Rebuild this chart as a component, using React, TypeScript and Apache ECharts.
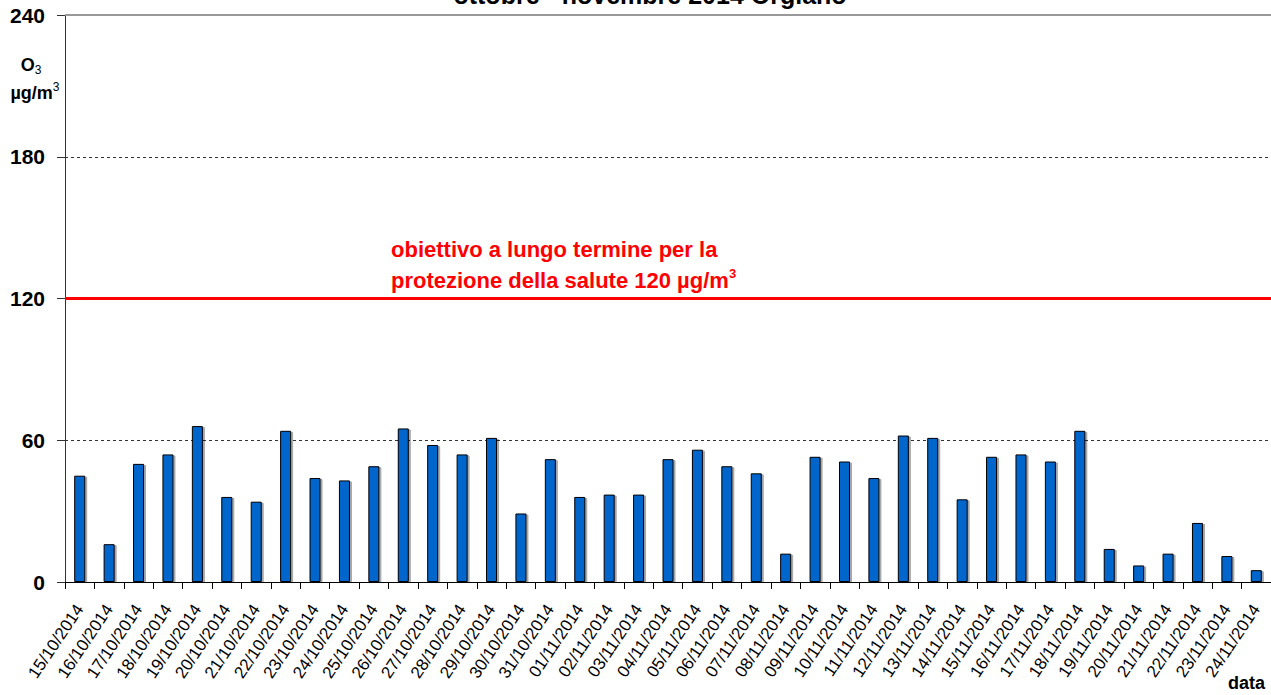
import React, { useEffect, useRef } from "react";
import * as echarts from "echarts";

const categories = [
  "15/10/2014", "16/10/2014", "17/10/2014", "18/10/2014", "19/10/2014", "20/10/2014",
  "21/10/2014", "22/10/2014", "23/10/2014", "24/10/2014", "25/10/2014", "26/10/2014",
  "27/10/2014", "28/10/2014", "29/10/2014", "30/10/2014", "31/10/2014", "01/11/2014",
  "02/11/2014", "03/11/2014", "04/11/2014", "05/11/2014", "06/11/2014", "07/11/2014",
  "08/11/2014", "09/11/2014", "10/11/2014", "11/11/2014", "12/11/2014", "13/11/2014",
  "14/11/2014", "15/11/2014", "16/11/2014", "17/11/2014", "18/11/2014", "19/11/2014",
  "20/11/2014", "21/11/2014", "22/11/2014", "23/11/2014", "24/11/2014",
];

const o3Values = [
  45, 16, 50, 54, 66, 36, 34, 64, 44, 43, 49, 65,
  58, 54, 61, 29, 52, 36, 37, 37, 52, 56, 49, 46,
  12, 53, 51, 44, 62, 61, 35, 53, 54, 51, 64, 14,
  7, 12, 25, 11, 5,
];

const yTicks = [0, 60, 120, 180, 240];
const limitValue = 120;

const FONT = "'Liberation Sans', Arial, sans-serif";

export default function App() {
  const ref = useRef<HTMLDivElement>(null);

  useEffect(() => {
    if (!ref.current) return;
    const chart = echarts.init(ref.current, null, { renderer: "svg" });
    chart.setOption({
      animation: false,
      backgroundColor: "#ffffff",
      grid: { left: 65, top: 15, width: 1213, height: 567, containLabel: false },
      xAxis: {
        type: "category",
        data: categories,
        boundaryGap: true,
        axisLine: { lineStyle: { color: "#000", width: 1 } },
        axisTick: { show: true, alignWithLabel: false, length: 7, lineStyle: { color: "#000" } },
        axisLabel: {
          interval: 0,
          rotate: 56,
          margin: 24,
          fontFamily: FONT,
          fontSize: 17,
          color: "#000",
        },
      },
      yAxis: {
        type: "value",
        min: yTicks[0],
        max: yTicks[yTicks.length - 1],
        interval: 60,
        axisLine: { show: true, lineStyle: { color: "#333", width: 1 } },
        axisTick: { show: true, length: 8, lineStyle: { color: "#333" } },
        axisLabel: {
          margin: 20,
          fontFamily: FONT,
          fontSize: 21,
          fontWeight: "bold",
          color: "#000",
        },
        splitLine: {
          show: true,
          lineStyle: { color: "#333", type: [3, 3], width: 1 },
        },
      },
      series: [
        {
          type: "bar",
          data: o3Values,
          barWidth: 11,
          itemStyle: {
            color: "#0066CC",
            borderColor: "#000",
            borderWidth: 1,
            shadowColor: "rgba(0,0,0,0.35)",
            shadowOffsetX: 2,
            shadowOffsetY: 1,
            shadowBlur: 0,
          },
          markLine: {
            silent: true,
            symbol: "none",
            label: { show: false },
            data: [
              { yAxis: limitValue, lineStyle: { color: "#ff0000", width: 3, type: "solid" } },
              { yAxis: 240, lineStyle: { color: "#999", width: 2, type: "solid" } },
            ],
          },
        },
      ],
      graphic: [
        {
          type: "text",
          x: 650,
          y: -18,
          style: {
            text: "ottobre - novembre 2014 Orgiano",
            font: `bold 25px ${FONT}`,
            fill: "#000",
            align: "center",
            verticalAlign: "top",
          },
        },
        {
          type: "text",
          x: 31,
          y: 65,
          style: {
            text: "{b|O}{s|3}",
            align: "center",
            verticalAlign: "middle",
            rich: {
              b: { font: `bold 18px ${FONT}`, fill: "#000" },
              s: { font: `12px ${FONT}`, fill: "#000", padding: [10, 0, 0, 0] },
            },
          },
        },
        {
          type: "text",
          x: 35,
          y: 93,
          style: {
            text: "{b|µg/m}{s|3}",
            align: "center",
            verticalAlign: "middle",
            rich: {
              b: { font: `bold 18px ${FONT}`, fill: "#000" },
              s: { font: `12px ${FONT}`, fill: "#000", padding: [0, 0, 13, 0] },
            },
          },
        },
        {
          type: "text",
          x: 391,
          y: 234,
          style: {
            text: "{r|obiettivo a lungo termine per la}\n{r|protezione della salute 120 µg/m}{s|3}",
            rich: {
              r: { font: `bold 22px ${FONT}`, fill: "#ff0000", lineHeight: 31 },
              s: { font: `bold 13px ${FONT}`, fill: "#ff0000", lineHeight: 31, padding: [0, 0, 15, 0] },
            },
          },
        },
        {
          type: "text",
          x: 1228,
          y: 674,
          style: {
            text: "data",
            font: `bold 18px ${FONT}`,
            fill: "#000",
          },
        },
      ],
    });
    return () => chart.dispose();
  }, []);

  return (
    <div
      ref={ref}
      style={{ position: "fixed", left: 0, top: 0, width: 1271, height: 695, background: "#fff" }}
    />
  );
}
